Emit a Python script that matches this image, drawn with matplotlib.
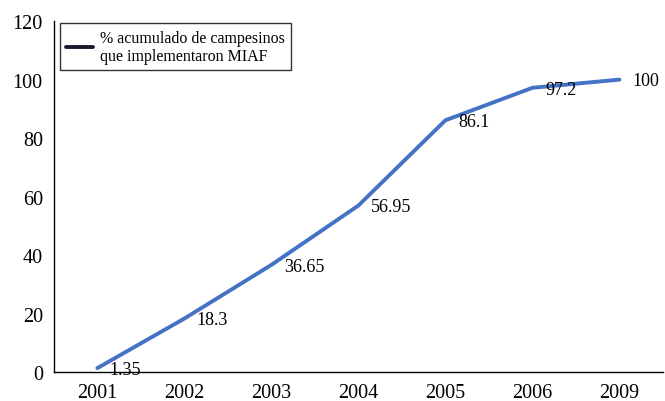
import matplotlib.pyplot as plt

plt.rcParams['font.family'] = ['Liberation Serif', 'DejaVu Serif']

years = ['2001', '2002', '2003', '2004', '2005', '2006', '2009']
values = [1.35, 18.3, 36.65, 56.95, 86.1, 97.2, 100]
labels = ['1.35', '18.3', '36.65', '56.95', '86.1', '97.2', '100']
y_ticks = [0, 20, 40, 60, 80, 100, 120]

fig = plt.figure(figsize=(6.65, 4.02), dpi=100)
ax = fig.add_axes([0.081, 0.072, 0.916, 0.873])

x = list(range(len(years)))
ax.plot(x, values, color='#4472C4', linewidth=2.8, solid_capstyle='round',
        label='% acumulado de campesinos\nque implementaron MIAF')

for xi, v, lab in zip(x, values, labels):
    ax.annotate(lab, (xi, v), xytext=(9, -1), textcoords='offset points',
                ha='left', va='center', fontsize=13)

ax.set_xlim(-0.5, len(years) - 0.5)
ax.set_ylim(0, 120)
ax.set_xticks(x)
ax.set_xticklabels(years)
ax.set_yticks(y_ticks)
ax.tick_params(axis='both', length=0, labelsize=14.5)
ax.tick_params(axis='x', pad=8)
ax.tick_params(axis='y', pad=8)

for s in ['top', 'right']:
    ax.spines[s].set_visible(False)
ax.spines['left'].set_color('black')
ax.spines['bottom'].set_color('black')
ax.spines['left'].set_linewidth(1)
ax.spines['bottom'].set_linewidth(1)

leg = ax.legend(loc='upper left', bbox_to_anchor=(0.01, 0.994), borderaxespad=0,
                fontsize=11.5, frameon=True, fancybox=False, handlelength=1.7,
                handletextpad=0.4, borderpad=0.4, labelspacing=0.2)
leg.get_frame().set_edgecolor('black')
leg.get_frame().set_linewidth(1)
leg.get_lines()[0].set_color('#1a1a2e')

fig.savefig('out.png', dpi=100)
